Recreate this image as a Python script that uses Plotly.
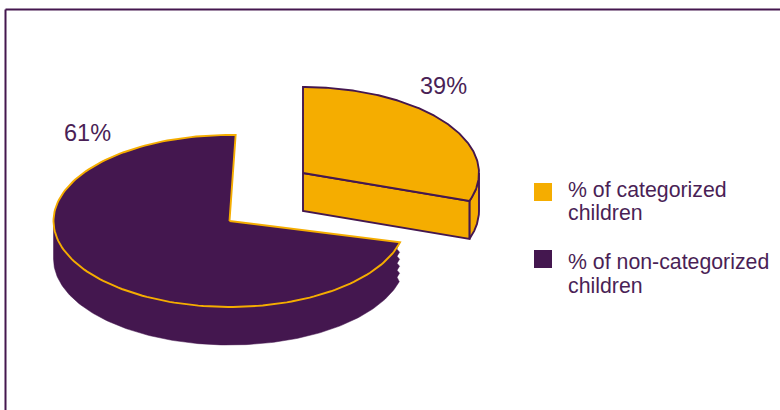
import numpy as np
import plotly.graph_objects as go

# Shares of children by category
categories = ["% of categorized", "% of non-categorized"]
legend_second_line = ["children", "children"]
shares = [39, 61]
value_labels = ["39%", "61%"]

GOLD = "#F5AD00"
PLUM = "#44174F"
TEXT = "#4A1F56"
FONT = "Liberation Sans, Arial, sans-serif"

# Pie geometry in canvas pixels: each wedge has its own hub because it is pulled out
HUBS = [(303.0, 173.0), (229.5, 221.0)]
RX, RY = 176.0, 86.0
DEPTH = 38.0
# Tilted view squeezes the angle towards the right-hand side of the disc
FORESHORTEN = 0.915
# Small angular overhang (degrees) on the start and end of each wedge
OVERHANG = [(0.0, 2.0), (-2.7, 2.0)]


def view_angle(fraction):
    theta = 2 * np.pi * fraction
    return theta - FORESHORTEN * np.sin(theta)


def rim(hub, start, end, drop=0.0, n=160):
    phi = np.linspace(start, end, n)
    return hub[0] + RX * np.sin(phi), hub[1] - RY * np.cos(phi) + drop


def wedge_span(i):
    before = sum(shares[:i]) / sum(shares)
    after = sum(shares[: i + 1]) / sum(shares)
    return (
        view_angle(before) + np.radians(OVERHANG[i][0]),
        view_angle(after) + np.radians(OVERHANG[i][1]),
    )


def poly(x, y, fill, line, width=1.9):
    return go.Scatter(
        x=list(x), y=list(y), mode="lines", fill="toself", fillcolor=fill,
        line=dict(color=line, width=width), hoverinfo="skip", showlegend=False,
    )


fig = go.Figure()

# Non-categorized wedge: side wall with a stepped cut edge, then the top face
hub = HUBS[1]
start, end = wedge_span(1)
tx, ty = rim(hub, start, start + 1e-4, n=2)
low_x, low_y = rim(hub, start + np.radians(1), np.pi * 1.5, DEPTH)
top_x, top_y = rim(hub, start, np.pi * 1.5)
# Zigzag down the cut edge: notch, then tooth, ending on the lower rim
teeth_y = ty[0] + np.array([7, 10, 14, 17, 21, 24, 28, 31, 35, 38])
teeth_x = tx[0] - np.array([3.0, 0.5, 3.0, 0.5, 3.0, 0.5, 3.0, 0.5, 3.0, 1.5])
wall_x = np.concatenate([top_x, low_x[::-1], teeth_x[::-1]])
wall_y = np.concatenate([top_y, low_y[::-1], teeth_y[::-1]])
fig.add_trace(poly(wall_x, wall_y, PLUM, PLUM, 0.5))
ax, ay = rim(hub, start, end)
fig.add_trace(poly(np.r_[hub[0], ax, hub[0]], np.r_[hub[1], ay, hub[1]], PLUM, GOLD))

# Categorized wedge: outer wall, cut face, then the top face
hub = HUBS[0]
start, end = wedge_span(0)
ox, oy = rim(hub, np.pi / 2, end)
fig.add_trace(poly(np.r_[ox, ox[::-1], ox[0]], np.r_[oy, oy[::-1] + DEPTH, oy[0]], GOLD, PLUM))
ex, ey = rim(hub, end, end + 1e-4, n=2)
fig.add_trace(poly(
    [hub[0], ex[0], ex[0], hub[0], hub[0]],
    [hub[1], ey[0], ey[0] + DEPTH, hub[1] + DEPTH, hub[1]],
    GOLD, PLUM,
))
ax, ay = rim(hub, start, end)
fig.add_trace(poly(np.r_[hub[0], ax, hub[0]], np.r_[hub[1], ay, hub[1]], GOLD, PLUM))

shapes = [
    dict(type="line", x0=5.5, x1=780, y0=9.5, y1=9.5, line=dict(color=PLUM, width=2)),
    dict(type="line", x0=5.5, x1=5.5, y0=9.5, y1=410, line=dict(color=PLUM, width=2)),
]
annotations = []


def add_text(x, y, text, size, anchor="left"):
    annotations.append(dict(
        x=x, y=y, text=text, showarrow=False, xanchor=anchor, yanchor="middle",
        xref="x", yref="y", font=dict(family=FONT, size=size, color=TEXT),
    ))


# Value labels beside each wedge
add_text(443.5, 86, value_labels[0], 23.5, "center")
add_text(87.5, 133, value_labels[1], 23.5, "center")

# Legend
swatch_y = [183, 250]
line_y = [(190, 213), (262, 286)]
for i, colour in enumerate([GOLD, PLUM]):
    shapes.append(dict(
        type="rect", x0=534, x1=552, y0=swatch_y[i], y1=swatch_y[i] + 18,
        fillcolor=colour, line=dict(width=0),
    ))
    add_text(566, line_y[i][0], categories[i], 21.3)
    add_text(566, line_y[i][1], legend_second_line[i], 21.3)

fig.update_layout(
    width=780, height=410, margin=dict(l=0, r=0, t=0, b=0),
    paper_bgcolor="white", plot_bgcolor="white", showlegend=False,
    xaxis=dict(range=[0, 780], visible=False, fixedrange=True),
    yaxis=dict(range=[410, 0], visible=False, fixedrange=True),
    shapes=shapes, annotations=annotations,
)
fig.write_html("out.html", config={"displayModeBar": False})
